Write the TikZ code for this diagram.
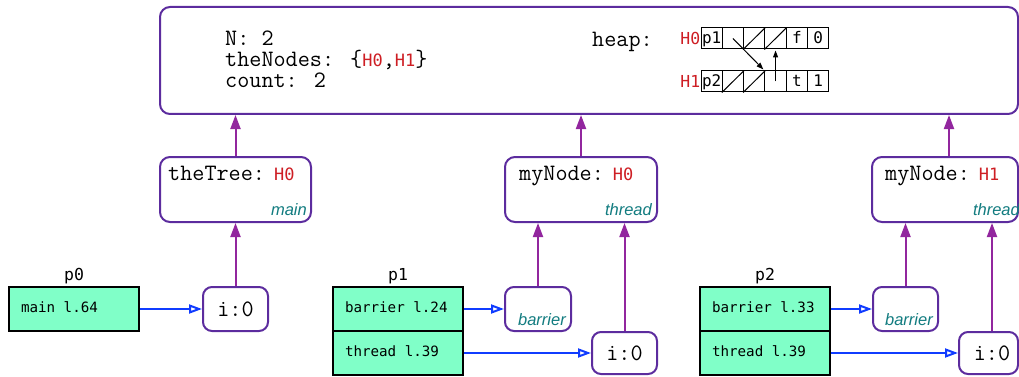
\documentclass[tikz,border=0pt]{standalone}
\usepackage{fontspec}
\usetikzlibrary{arrows.meta}
\newfontfamily\dvm{DejaVu Sans Mono}
\newfontfamily\hlv{Liberation Sans}
\definecolor{boxpurple}{RGB}{92,44,158}
\definecolor{arrpurple}{RGB}{146,38,158}
\definecolor{arrblue}{RGB}{16,60,255}
\definecolor{stackgreen}{RGB}{128,255,200}
\definecolor{hred}{RGB}{206,30,36}
\definecolor{tealtxt}{RGB}{18,124,128}
\newcommand\hval[1]{{\dvm\fontsize{17}{18}\selectfont\color{hred}#1}}
\newcommand\msp{\hspace{0.602em}}
\newcommand\tightlines{\setlength{\lineskiplimit}{-30pt}\setlength{\lineskip}{0pt}}
\begin{document}
\begin{tikzpicture}[x=1pt,y=-1pt,
  vbox/.style={draw=boxpurple, line width=2pt, rounded corners=10pt, fill=white, inner sep=0pt},
  sbox/.style={vbox, rounded corners=9pt, minimum width=65pt, minimum height=44pt},
  cour/.style={inner sep=0pt, font=\ttfamily\fontsize{23.5}{25}\selectfont},
  glines/.style={inner sep=0pt, align=left, anchor=north west,
    font=\ttfamily\fontsize{23.5}{21}\selectfont\tightlines},
  ital/.style={inner sep=0pt, font=\hlv\itshape\fontsize{16.5}{18}\selectfont, text=tealtxt, anchor=base east},
  hlab/.style={inner sep=0pt, font=\dvm\fontsize{16.5}{18}\selectfont, text=hred, anchor=east},
  plab/.style={inner sep=0pt, font=\dvm\fontsize{16.5}{18}\selectfont, anchor=base},
  cell/.style={draw, line width=1pt, minimum width=21.3pt, minimum height=21pt, inner sep=0pt,
    font=\dvm\fontsize{16}{16}\selectfont, text height=12.5pt, text depth=2pt},
  stackrow/.style={draw=black, line width=2pt, fill=stackgreen, inner xsep=12pt, inner ysep=0pt,
    text width=106pt, align=left, minimum height=44pt, font=\dvm\fontsize{14.2}{16}\selectfont,
    text height=10pt, text depth=3pt},
  parrow/.style={draw=arrpurple, line width=2pt, -{Triangle[length=14pt, width=10pt]}},
  barrow/.style={draw=arrblue, line width=2pt, -{Triangle[open, length=13pt, width=9pt]}},
  harrow/.style={draw=black, line width=1pt, -{Triangle[length=7pt, width=5pt]}}
]
\useasboundingbox (0,0) rectangle (1019,377);
\clip (0,0) rectangle (1019,377);

% global box
\node[vbox, minimum width=858pt, minimum height=107pt] (glob) at (589,60.5) {};
\node[glines] (tvars) at (225,30.6) {N: 2\\theNodes: \{\hval{H0},\hval{H1}\}\\count: 2};
\node[cour, anchor=base west] (tHeap) at (592,47) {heap:};

% heap cells
\node[cell] (a1) at (711.65,38.5) {p1};
\node[cell] (a2) at (732.95,38.5) {};
\node[cell] (a3) at (754.25,38.5) {};
\node[cell] (a4) at (775.55,38.5) {};
\node[cell] (a5) at (796.85,38.5) {f};
\node[cell] (a6) at (818.15,38.5) {0};
\node[cell] (b1) at (711.65,81.5) {p2};
\node[cell] (b2) at (732.95,81.5) {};
\node[cell] (b3) at (754.25,81.5) {};
\node[cell] (b4) at (775.55,81.5) {};
\node[cell] (b5) at (796.85,81.5) {t};
\node[cell] (b6) at (818.15,81.5) {1};
\node[hlab] (h0) at (a1.west) {H0};
\node[hlab] (h1) at (b1.west) {H1};
\draw[line width=1pt] (a3.south west) -- (a3.north east);
\draw[line width=1pt] (a4.south west) -- (a4.north east);
\draw[line width=1pt] (b2.south west) -- (b2.north east);
\draw[line width=1pt] (b3.south west) -- (b3.north east);
\draw[harrow, shorten >=1.5pt] (a2.center) -- (b4.north west);
\draw[harrow, shorten >=1pt] (b4.center) -- (a4.south);

% thread-local boxes
\node[vbox, minimum width=151pt, minimum height=65pt] (tree) at (235.5,189.5) {};
\node[cour, anchor=base west] (treeT) at (168,180) {theTree:\hspace{9pt}\hval{H0}};
\node[ital] (treeM) at (307,215) {main};

\node[vbox, minimum width=152pt, minimum height=65pt] (my0) at (581,189.5) {};
\node[cour, anchor=base west] (my0T) at (519,180) {myNode:\hspace{9pt}\hval{H0}};
\node[ital] (my0M) at (652,215) {thread};

\node[vbox, minimum width=146pt, minimum height=65pt] (my1) at (945,189.5) {};
\node[cour, anchor=base west] (my1T) at (885,180) {myNode:\hspace{9pt}\hval{H1}};
\node[ital] (my1M) at (1020,215) {thread};

% small boxes
\node[sbox] (i0) at (235.5,309) {};
\node[cour, anchor=base] (i0T) at (235.5,316) {i:0};
\node[sbox, minimum width=66pt] (bar1) at (538,309) {};
\node[ital] (bar1T) at (566,325) {barrier};
\node[sbox, minimum height=42pt] (i1) at (624.5,353) {};
\node[cour, anchor=base] (i1T) at (624.5,360) {i:0};
\node[sbox] (bar2) at (905.5,309) {};
\node[ital] (bar2T) at (933,325) {barrier};
\node[sbox, minimum width=59pt, minimum height=42pt] (i2) at (988.5,353) {};
\node[cour, anchor=base] (i2T) at (992,360) {i:0};

% stacks
\node[plab] (p0L) at (74,280) {p0};
\node[stackrow] (p0a) at (74,309) {main\msp l.64};
\node[plab] (p1L) at (398,280) {p1};
\node[stackrow] (p1a) at (398,309) {barrier\msp l.24};
\node[stackrow] (p1b) at (398,353) {thread\msp l.39};
\node[plab] (p2L) at (765,280) {p2};
\node[stackrow] (p2a) at (765,309) {barrier\msp l.33};
\node[stackrow] (p2b) at (765,353) {thread\msp l.39};

% purple arrows
\draw[parrow] (tree.north) -- (tree.north |- glob.south);
\draw[parrow] (my0.north) -- (my0.north |- glob.south);
\draw[parrow] ([xshift=4pt]my1.north) -- ([xshift=4pt]my1.north |- glob.south);
\draw[parrow] (i0.north) -- (tree.south);
\draw[parrow] (bar1.north) -- (bar1.north |- my0.south);
\draw[parrow] (i1.north) -- (i1.north |- my0.south);
\draw[parrow] (bar2.north) -- (bar2.north |- my1.south);
\draw[parrow] ([xshift=3.5pt]i2.north) -- ([xshift=3.5pt]i2.north |- my1.south);

% blue arrows
\draw[barrow] (p0a.east) -- (i0.west);
\draw[barrow] (p1a.east) -- (bar1.west);
\draw[barrow] (p1b.east) -- (i1.west);
\draw[barrow] (p2a.east) -- (bar2.west);
\draw[barrow] (p2b.east) -- (i2.west);
\end{tikzpicture}
\end{document}
